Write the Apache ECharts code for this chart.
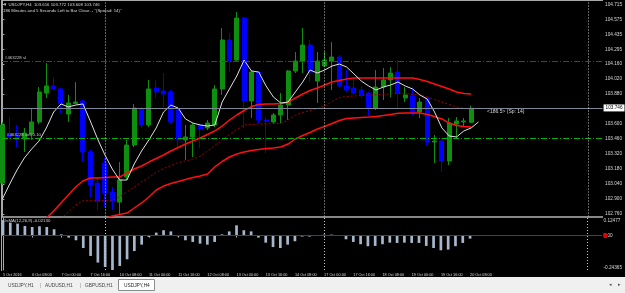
<!DOCTYPE html>
<html>
<head>
<meta charset="utf-8">
<script src="https://cdn.jsdelivr.net/npm/echarts@6/dist/echarts.min.js"></script>
<style>
  html, body { margin: 0; padding: 0; background: #000; }
  #chart { width: 625px; height: 293px; }
</style>
</head>
<body>
<div id="chart"></div>
<script>
// USDJPY H4, one row per bar: [open, close, low, high]
const bars = [
  [103.049, 103.591, 103.031, 103.619],
  [103.507, 103.479, 103.451, 103.665],
  [103.488, 103.460, 103.385, 103.591],
  [103.460, 103.516, 103.339, 103.563],
  [103.507, 103.619, 103.451, 103.749],
  [103.619, 103.899, 103.600, 103.945],
  [103.889, 103.955, 103.843, 104.169],
  [103.955, 103.927, 103.917, 104.039],
  [103.927, 103.787, 103.703, 103.936],
  [103.693, 103.796, 103.619, 103.871],
  [103.791, 103.805, 103.787, 103.992],
  [103.815, 103.339, 103.245, 103.824],
  [103.339, 103.031, 102.919, 103.357],
  [103.049, 102.881, 102.797, 103.105],
  [103.236, 102.956, 102.825, 103.283],
  [102.965, 102.881, 102.797, 103.012],
  [102.872, 103.077, 102.751, 103.245],
  [103.105, 103.404, 103.077, 103.451],
  [103.404, 103.749, 103.385, 103.787],
  [103.740, 103.591, 103.563, 103.759],
  [103.591, 103.927, 103.572, 104.011],
  [103.936, 103.899, 103.843, 104.011],
  [103.908, 103.880, 103.759, 104.076],
  [103.899, 103.619, 103.600, 103.917],
  [103.731, 103.451, 103.376, 103.749],
  [103.451, 103.479, 103.264, 103.591],
  [103.479, 103.591, 103.292, 103.609],
  [103.591, 103.553, 103.376, 103.600],
  [103.563, 103.609, 103.544, 103.637],
  [103.591, 103.927, 103.572, 103.964],
  [103.927, 104.384, 103.871, 104.496],
  [104.384, 104.188, 104.085, 104.449],
  [104.197, 104.589, 104.179, 104.645],
  [104.589, 103.815, 103.563, 104.599],
  [103.815, 104.085, 103.656, 104.104],
  [104.085, 103.637, 103.609, 104.095],
  [103.637, 103.628, 103.329, 103.665],
  [103.619, 103.684, 103.600, 103.703],
  [103.684, 103.777, 103.609, 103.889],
  [103.777, 104.095, 103.637, 104.104],
  [104.095, 104.188, 104.076, 104.272],
  [104.188, 104.337, 104.076, 104.496],
  [104.337, 104.085, 103.992, 104.384],
  [104.001, 104.188, 103.796, 104.272],
  [104.141, 104.197, 104.132, 104.272],
  [104.188, 104.225, 103.917, 104.365],
  [104.225, 103.955, 103.945, 104.244],
  [103.955, 103.917, 103.899, 104.104],
  [103.936, 103.889, 103.871, 104.011],
  [103.917, 103.871, 103.843, 103.955],
  [103.889, 103.749, 103.675, 103.899],
  [103.749, 103.945, 103.731, 104.104],
  [103.945, 104.011, 103.824, 104.123],
  [104.011, 104.076, 103.852, 104.132],
  [104.085, 103.889, 103.749, 104.197],
  [103.843, 103.871, 103.805, 103.945],
  [103.861, 103.712, 103.684, 103.945],
  [103.712, 103.805, 103.656, 103.843],
  [103.843, 103.432, 103.404, 103.843],
  [103.432, 103.441, 103.236, 103.497],
  [103.441, 103.255, 103.152, 103.469],
  [103.255, 103.609, 103.217, 103.656],
  [103.600, 103.628, 103.469, 103.665],
  [103.619, 103.628, 103.572, 103.656],
  [103.616, 103.746, 103.608, 103.772]
];

// fast moving average (white)
const maWhite = [
  102.900, 103.040, 103.171, 103.283, 103.367, 103.441, 103.563, 103.712, 103.787, 103.759,
  103.777, 103.787, 103.628, 103.460, 103.311, 103.180, 103.077, 103.077, 103.227, 103.348,
  103.451, 103.563, 103.712, 103.777, 103.749, 103.647, 103.609, 103.591, 103.581, 103.591,
  103.805, 103.927, 104.048, 104.197, 104.095, 104.085, 103.955, 103.852, 103.796, 103.805,
  103.899, 103.992, 104.104, 104.076, 104.104, 104.141, 104.160, 104.132, 104.067, 104.001,
  103.955, 103.917, 103.945, 103.964, 103.992, 103.955, 103.927, 103.871, 103.833, 103.712,
  103.563, 103.488, 103.479, 103.535, 103.563, 103.619
];

// channel lines (red upper, dark red middle, red lower)
const chanUpper = [
  null, null, null, null, null, null,
  102.723, 102.788, 102.863, 102.937, 103.012, 103.068, 103.096, 103.096, 103.101, 103.105,
  103.105, 103.143, 103.180, 103.208, 103.245, 103.278, 103.311, 103.348, 103.381, 103.413,
  103.441, 103.469, 103.502, 103.535, 103.581, 103.637, 103.684, 103.726, 103.763, 103.782,
  103.787, 103.787, 103.791, 103.801, 103.843, 103.880, 103.913, 103.936, 103.964, 103.992,
  104.006, 104.020, 104.029, 104.029, 104.029, 104.029, 104.029, 104.029, 104.029, 104.029,
  104.029, 104.015, 103.997, 103.973, 103.950, 103.927, 103.899, 103.885, 103.880
];
const chanMid = [
  null, null, null, null, null, null, null, null,
  102.713, 102.779, 102.844, 102.884, 102.884, 102.884, 102.884, 102.884,
  102.923, 102.965, 103.012, 103.059, 103.101, 103.147, 103.185, 103.213, 103.241, 103.255,
  103.273, 103.297, 103.348, 103.399, 103.451, 103.502, 103.549, 103.591, 103.595, 103.600,
  103.600, 103.605, 103.607, 103.637, 103.684, 103.707, 103.726, 103.745, 103.768, 103.810,
  103.847, 103.857, 103.861, 103.866, 103.871, 103.873, 103.877, 103.880, 103.885, 103.882,
  103.877, 103.871, 103.852, 103.829, 103.805, 103.782, 103.759, 103.747, 103.740
];
const chanLower = [
  null, null, null, null, null, null, null, null, null, null, null, null, null, null,
  102.713, 102.741, 102.755, 102.769, 102.816, 102.863, 102.919, 102.984, 103.021, 103.045,
  103.063, 103.082, 103.101, 103.115, 103.133, 103.199, 103.250, 103.292, 103.320, 103.339,
  103.353, 103.362, 103.371, 103.376, 103.385, 103.413, 103.460, 103.493, 103.521, 103.553,
  103.577, 103.605, 103.633, 103.651, 103.656, 103.661, 103.665, 103.670, 103.679, 103.689,
  103.701, 103.703, 103.703, 103.703, 103.689, 103.670, 103.647, 103.609, 103.586, 103.577,
  103.572
];

// OsMA(12,26,9) histogram
const osma = [
  0.110, 0.092, 0.085, 0.068, 0.061, 0.066, 0.061, 0.045, 0.009, -0.014,
  -0.033, -0.088, -0.144, -0.191, -0.222, -0.2436, -0.215, -0.168, -0.109, -0.064,
  -0.010, 0.021, 0.038, 0.030, -0.005, -0.033, -0.045, -0.057, -0.064, -0.045,
  0.009, 0.030, 0.073, 0.038, 0.030, -0.014, -0.050, -0.081, -0.088, -0.064,
  -0.040, -0.007, -0.007, 0.003, 0.007, 0.007, 0.002, -0.026, -0.045, -0.061,
  -0.075, -0.073, -0.061, -0.050, -0.052, -0.050, -0.052, -0.052, -0.073, -0.088,
  -0.104, -0.099, -0.075, -0.052, -0.0213
];

// time labels, one every 4 bars
const timeLabels = [
  '5 Oct 2016', '6 Oct 08:00', '7 Oct 00:00', '7 Oct 16:00', '10 Oct 08:00',
  '11 Oct 00:00', '11 Oct 16:00', '12 Oct 08:00', '13 Oct 00:00', '13 Oct 16:00',
  '14 Oct 08:00', '17 Oct 00:00', '17 Oct 16:00', '18 Oct 08:00', '19 Oct 00:00',
  '19 Oct 16:00', '20 Oct 08:00'
];
const timeTicks = timeLabels.map((t, k) => k * 4);
const priceTicks = [104.715, 104.575, 104.435, 104.295, 104.160, 104.020, 103.880,
  103.600, 103.460, 103.320, 103.180, 103.040, 102.900, 102.760];
const osmaTicks = [0.12477, 0, -0.24365];

const bid = 103.746;
const slLevel = 104.193;
const sellLevel = 103.465;
const weekSeparators = [14, 44, 80];

const FONT = 'Liberation Sans, Arial, sans-serif';
const txt = '#d8d8d8';
const frame = '#a8a8a8';

const pairs = (arr) => arr.map((v, i) => [i, v]);
const sepLines = weekSeparators.map((x) => ({
  xAxis: x,
  lineStyle: { color: '#c8c8c8', type: [1, 2], width: 1 },
  label: { show: false }
}));

const chart = echarts.init(document.getElementById('chart'), null, { renderer: 'canvas' });

const option = {
  backgroundColor: '#000000',
  animation: false,
  textStyle: { fontFamily: FONT },
  grid: [
    { left: 2, top: 1, width: 601, height: 215.5 },
    { left: 2, top: 218, width: 601, height: 52 }
  ],
  xAxis: [
    { type: 'value', gridIndex: 0, min: -0.055, max: 81.94, show: false },
    {
      type: 'value', gridIndex: 1, min: -0.055, max: 81.94,
      axisLine: { show: true, lineStyle: { color: frame, width: 1 } },
      axisTick: { show: true, customValues: timeTicks, length: 2, lineStyle: { color: frame } },
      axisLabel: {
        customValues: timeTicks,
        formatter: (v) => timeLabels[Math.round(v / 4)],
        color: txt, fontSize: 3.8, fontFamily: FONT, align: 'left', margin: 2.5
      },
      splitLine: { show: false }
    }
  ],
  yAxis: [
    {
      type: 'value', gridIndex: 0, position: 'right', min: 102.7367, max: 104.748,
      axisLine: { show: true, lineStyle: { color: frame, width: 1 } },
      axisTick: { show: true, customValues: priceTicks, length: 2, lineStyle: { color: frame } },
      axisLabel: {
        customValues: priceTicks,
        formatter: (v) => v.toFixed(3),
        color: txt, fontSize: 4.7, fontFamily: FONT, margin: 2.5
      },
      splitLine: { show: false }
    },
    {
      type: 'value', gridIndex: 1, position: 'right', min: -0.24365, max: 0.12477,
      axisLine: { show: true, lineStyle: { color: frame, width: 1 } },
      axisTick: { show: false },
      axisLabel: {
        customValues: osmaTicks,
        formatter: (v) => v === 0 ? '{m|0.00}' : (v > 0 ? '{t|' + v.toFixed(5) + '}' : '{b|' + v.toFixed(5) + '}'),
        color: txt, fontSize: 4.7, fontFamily: FONT, margin: 2.5,
        rich: {
          t: { fontSize: 4.7, color: txt, padding: [5, 0, 0, 0] },
          m: { fontSize: 4.7, color: txt },
          b: { fontSize: 4.7, color: txt, padding: [0, 0, 5, 0] }
        }
      },
      splitLine: { show: false }
    }
  ],
  series: [
    {
      type: 'candlestick', xAxisIndex: 0, yAxisIndex: 0,
      data: bars.map((b, i) => [i, b[0], b[1], b[2], b[3]]),
      encode: { x: 0, y: [1, 2, 3, 4] },
      barWidth: 4.5,
      itemStyle: {
        color: '#0f8f0f', borderColor: '#0f8f0f',
        color0: '#0000ff', borderColor0: '#0000ff',
        borderColorDoji: '#0f8f0f', borderWidth: 1
      },
      markLine: {
        symbol: 'none', silent: true, animation: false,
        data: [
          {
            yAxis: bid,
            lineStyle: { color: '#7e8896', type: 'solid', width: 1 },
            label: {
              show: true, position: 'end', formatter: bid.toFixed(3), distance: 1,
              backgroundColor: '#ffffff', color: '#000000', fontSize: 4.7, fontFamily: FONT, padding: [1, 2]
            }
          },
          {
            yAxis: slLevel,
            lineStyle: { color: '#e00000', type: [6, 2, 1, 2], width: 1 },
            label: { show: true, position: 'insideStartTop', formatter: '#463228 sl', color: '#c8c8c8', fontSize: 4.3, fontFamily: FONT, distance: [3, 1] }
          },
          {
            yAxis: sellLevel,
            lineStyle: { color: '#00b400', type: [6, 2, 1, 2], width: 1 },
            label: { show: true, position: 'insideStartTop', formatter: '#463228 sell 0.10', color: '#c8c8c8', fontSize: 4.3, fontFamily: FONT, distance: [5, 1] }
          }
        ].concat(sepLines)
      }
    },
    {
      type: 'line', xAxisIndex: 0, yAxisIndex: 0, data: pairs(chanUpper),
      symbol: 'none', lineStyle: { color: '#ff1010', width: 1.5 }, z: 3
    },
    {
      type: 'line', xAxisIndex: 0, yAxisIndex: 0, data: pairs(chanMid),
      symbol: 'none', lineStyle: { color: '#a00000', width: 1, type: [2, 2] }, z: 3
    },
    {
      type: 'line', xAxisIndex: 0, yAxisIndex: 0, data: pairs(chanLower),
      symbol: 'none', lineStyle: { color: '#ff1010', width: 1.5 }, z: 3
    },
    {
      type: 'line', xAxisIndex: 0, yAxisIndex: 0, data: pairs(maWhite),
      symbol: 'none', lineStyle: { color: '#e0e0e0', width: 1 }, z: 4
    },
    {
      type: 'bar', xAxisIndex: 1, yAxisIndex: 1, data: pairs(osma),
      barWidth: 2.7, itemStyle: { color: '#a6b6cb' },
      markLine: {
        symbol: 'none', silent: true, animation: false,
        data: [
          { yAxis: 0, lineStyle: { color: '#e00000', type: 'solid', width: 1 }, label: { show: false } }
        ].concat(sepLines)
      }
    }
  ],
  graphic: [
    // chart frame
    { type: 'line', shape: { x1: 1.5, y1: 0, x2: 1.5, y2: 271 }, style: { stroke: frame, lineWidth: 1 } },
    { type: 'line', shape: { x1: 1, y1: 0.5, x2: 603, y2: 0.5 }, style: { stroke: frame, lineWidth: 1 } },
    { type: 'line', shape: { x1: 1, y1: 217, x2: 603, y2: 217 }, style: { stroke: '#b4b4b4', lineWidth: 1.5 } },
    // header
    { type: 'text', left: 3, top: 2.5, style: { text: '▼ USDJPY,H4  103.616 103.772 103.608 103.746', fill: txt, font: '4.3px ' + FONT } },
    { type: 'text', left: 3, top: 9, style: { text: '186 Minutes and 5 Seconds Left to Bar Close. - "(Spread: 14)"', fill: txt, font: '4.3px ' + FONT } },
    { type: 'text', left: 487, top: 109.5, style: { text: '<186.5> (Sp: 14)', fill: txt, font: '5px ' + FONT } },
    { type: 'text', left: 3, top: 219, style: { text: 'OsMA(12,26,9) -0.02130', fill: txt, font: '4.3px ' + FONT } },
    // zero marker on OsMA scale
    { type: 'rect', shape: { x: 603.5, y: 233, width: 3.5, height: 5 }, style: { fill: '#e00000' }, z: 10 },
    // tab bar
    { type: 'rect', shape: { x: 0, y: 277, width: 625, height: 16 }, style: { fill: '#f0f0f0' } },
    { type: 'rect', shape: { x: 118.5, y: 279.5, width: 36, height: 11 }, style: { fill: '#ffffff', stroke: '#8c8c8c', lineWidth: 1 } },
    { type: 'text', left: 8, top: 283, style: { text: 'USDJPY,H1', fill: '#444', font: '4.8px ' + FONT } },
    { type: 'text', left: 39.5, top: 282, style: { text: '|', fill: '#999', font: '6px ' + FONT } },
    { type: 'text', left: 45, top: 283, style: { text: 'AUDUSD,H1', fill: '#444', font: '4.8px ' + FONT } },
    { type: 'text', left: 79.5, top: 282, style: { text: '|', fill: '#999', font: '6px ' + FONT } },
    { type: 'text', left: 85, top: 283, style: { text: 'GBPUSD,H1', fill: '#444', font: '4.8px ' + FONT } },
    { type: 'text', left: 124, top: 283, style: { text: 'USDJPY,H4', fill: '#222', font: '4.8px ' + FONT } },
    { type: 'text', left: 609, top: 282, style: { text: '◂', fill: '#555', font: '5px ' + FONT } },
    { type: 'text', left: 618, top: 282, style: { text: '▸', fill: '#555', font: '5px ' + FONT } }
  ]
};

chart.setOption(option);
</script>
</body>
</html>
